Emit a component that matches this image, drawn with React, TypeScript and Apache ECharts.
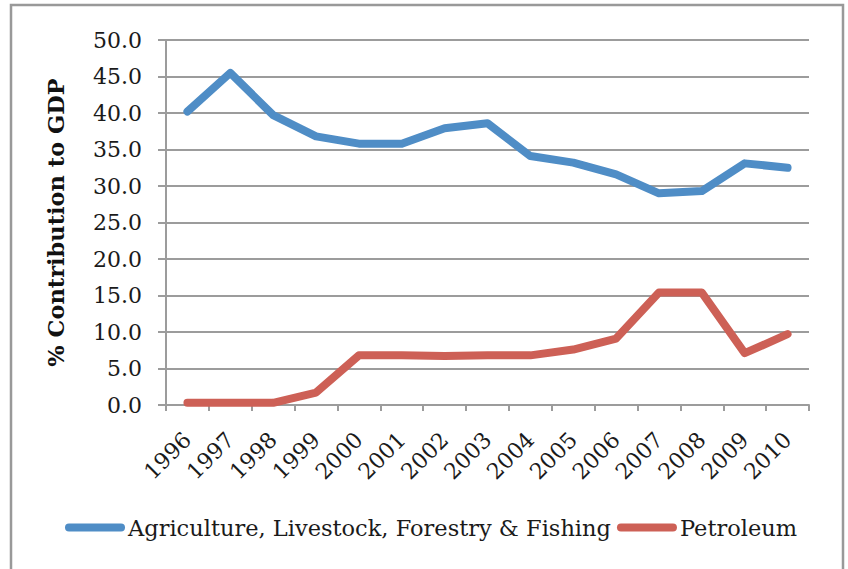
import React, { useEffect, useRef } from "react";
import * as echarts from "echarts";

const years = ["1996","1997","1998","1999","2000","2001","2002","2003","2004","2005","2006","2007","2008","2009","2010"];
const agriculture = [40.2, 45.5, 39.7, 36.8, 35.8, 35.8, 37.9, 38.6, 34.1, 33.2, 31.6, 29.0, 29.3, 33.1, 32.5];
const petroleum = [0.3, 0.3, 0.3, 1.7, 6.8, 6.8, 6.7, 6.8, 6.8, 7.6, 9.1, 15.4, 15.4, 7.1, 9.7];
const seriesNames = ["Agriculture, Livestock, Forestry & Fishing", "Petroleum"];
const yAxisTitle = "% Contribution to GDP";

const FONT = "DejaVu Serif";
const GRID = "#9c9c9c";

export default function App() {
  const ref = useRef<HTMLDivElement>(null);
  useEffect(() => {
    if (!ref.current) return;
    const chart = echarts.init(ref.current, null, { renderer: "svg" });
    const pill = "path://M4,0 L56,0 A4,4 0 0 1 56,8 L4,8 A4,4 0 0 1 4,0 Z";
    chart.setOption({
      animation: false,
      backgroundColor: "#ffffff",
      graphic: [
        {
          type: "rect",
          shape: { x: 11, y: 5, width: 832, height: 620 },
          style: { fill: "none", stroke: "#999999", lineWidth: 2.5 },
          silent: true,
          z: -10,
        },
      ],
      grid: { left: 166, right: 39, top: 40, bottom: 164, containLabel: false },
      legend: {
        left: 60,
        top: 511,
        itemWidth: 60,
        itemHeight: 8,
        itemGap: 6,
        textStyle: { fontFamily: FONT, fontSize: 22.5, color: "#1a1a1a", padding: [0, 0, 0, -2] },
        data: [
          { name: seriesNames[0], icon: pill },
          { name: seriesNames[1], icon: pill },
        ],
      },
      xAxis: {
        type: "category",
        data: years,
        boundaryGap: true,
        axisLine: { show: true, lineStyle: { color: GRID, width: 2 } },
        axisTick: { show: true, alignWithLabel: false, length: 6, lineStyle: { color: GRID, width: 2 } },
        axisLabel: {
          rotate: 45,
          interval: 0,
          margin: 31,
          fontFamily: FONT,
          fontSize: 22,
          color: "#1a1a1a",
        },
        splitLine: { show: false },
      },
      yAxis: {
        type: "value",
        min: 0,
        max: 50,
        interval: 5,
        name: yAxisTitle,
        nameLocation: "middle",
        nameGap: 99,
        nameTextStyle: { fontFamily: FONT, fontSize: 22.5, fontWeight: "bold", color: "#111111" },
        axisLine: { show: true, lineStyle: { color: GRID, width: 2 } },
        axisTick: { show: true, length: 8, lineStyle: { color: GRID, width: 2 } },
        axisLabel: {
          margin: 24,
          fontFamily: FONT,
          fontSize: 22,
          color: "#1a1a1a",
          formatter: (v: number) => v.toFixed(1),
        },
        splitLine: { show: true, lineStyle: { color: GRID, width: 2 } },
      },
      series: [
        {
          name: seriesNames[0],
          type: "line",
          data: agriculture,
          symbol: "none",
          color: "#4F8DC6",
          lineStyle: { width: 8, color: "#4F8DC6", cap: "round", join: "round" },
        },
        {
          name: seriesNames[1],
          type: "line",
          data: petroleum,
          symbol: "none",
          color: "#CD6056",
          lineStyle: { width: 8, color: "#CD6056", cap: "round", join: "round" },
        },
      ],
    });
    return () => chart.dispose();
  }, []);
  return <div ref={ref} style={{ width: 848, height: 569, position: "absolute", left: 0, top: 0 }} />;
}
